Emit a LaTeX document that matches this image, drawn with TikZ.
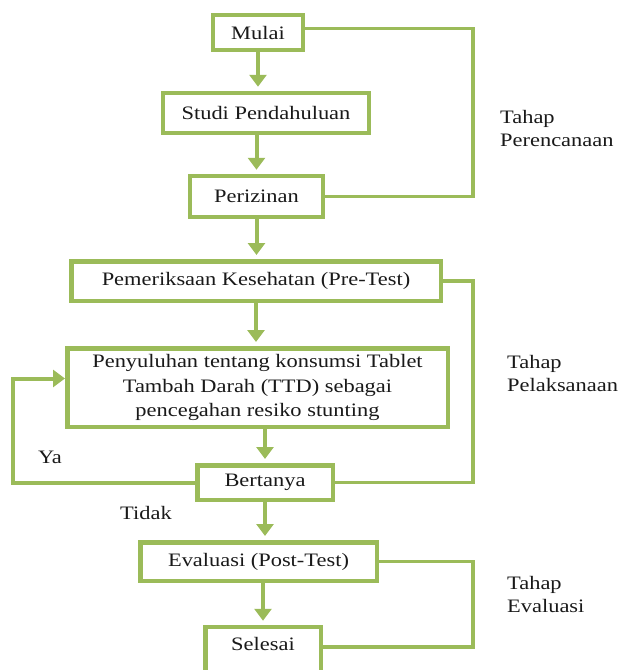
\documentclass[tikz,border=0pt]{standalone}
\usepackage{fontspec}
\setmainfont{Liberation Serif}[FakeStretch=1.18]
\usepackage{tikz}
\usetikzlibrary{arrows.meta, positioning, calc}
\definecolor{flowgreen}{RGB}{155, 187, 89}
\definecolor{textdark}{RGB}{25, 25, 25}

\begin{document}
\begin{tikzpicture}[x=1pt, y=-1pt,
        stepbox/.style={draw=flowgreen, line width=4.5pt, fill=white, inner sep=0pt, text=textdark, align=center, font=\fontsize{19}{23}\selectfont},
        flow/.style={draw=flowgreen, line width=4pt, -{Triangle[width=17pt, length=12pt]}, shorten >=4pt},
        rail/.style={draw=flowgreen, line width=3.5pt},
        note/.style={inner sep=0pt, text=textdark, align=left, font=\fontsize{19}{23}\selectfont}]
        \useasboundingbox (0,0) rectangle (622,670);

        % Steps
        \node[stepbox, minimum width=90pt, minimum height=35pt] (mulai) at (258,32.5) {Mulai};
        \node[stepbox, minimum width=206pt, minimum height=40pt] (studi) at (266,113) {Studi Pendahuluan};
        \node[stepbox, minimum width=133pt, minimum height=41pt] (izin) at (256.5,196.5) {Perizinan};
        \node[stepbox, minimum width=369.5pt, minimum height=39.5pt] (periksa) at (256,281) {Pemeriksaan Kesehatan (Pre-Test)};
        \node[stepbox, minimum width=380.5pt, minimum height=78.5pt, font=\fontsize{19}{24.5}\selectfont] (suluh) at (257.5,387.5) {Penyuluhan tentang konsumsi Tablet\\Tambah Darah (TTD) sebagai\\pencegahan resiko stunting};
        \node[stepbox, minimum width=135.5pt, minimum height=34.5pt] (tanya) at (265,482.5) {Bertanya};
        \node[stepbox, minimum width=236.5pt, minimum height=38.5pt] (evaluasi) at (258.5,561.5) {Evaluasi (Post-Test)};
        \node[stepbox, minimum width=115.5pt, minimum height=46pt, text depth=13pt] (selesai) at (263,650) {Selesai};

        % Stage labels
        \node[note, anchor=west] (tahapA) at (500,128.5) {Tahap\\Perencanaan};
        \node[note, anchor=west] (tahapB) at (507,373.5) {Tahap\\Pelaksanaan};
        \node[note, anchor=west] (tahapC) at (507,594.5) {Tahap\\Evaluasi};
        \node[note] (ya) at (50,457) {Ya};
        \node[note] (tidak) at (146,513) {Tidak};

        % Flow arrows
        \draw[flow] (mulai.south) -- (mulai.south |- studi.north);
        \draw[flow] (izin.north |- studi.south) -- (izin.north);
        \draw[flow] (izin.south) -- (izin.south |- periksa.north);
        \draw[flow] (periksa.south) -- (periksa.south |- suluh.north);
        \draw[flow] (tanya.north |- suluh.south) -- (tanya.north);
        \draw[flow] (tanya.south) -- (tanya.south |- evaluasi.north);
        \draw[flow] (selesai.north |- evaluasi.south) -- (selesai.north);

        % Stage brackets and loop
        \coordinate (railx) at (473,0);
        \coordinate (loopx) at (13,0);
        \draw[rail] ([yshift=4pt]mulai.east) -- ([yshift=4pt]mulai.east -| railx) |- (izin.east);
        \draw[rail] (periksa.east) -- (periksa.east -| railx) |- (tanya.east);
        \draw[rail] (evaluasi.east) -- (evaluasi.east -| railx) |- ([yshift=3pt]selesai.east);
        \draw[flow, shorten >=0pt] (tanya.west) -- (tanya.west -| loopx) |- ([yshift=9pt]suluh.west);
    \end{tikzpicture}
\end{document}
